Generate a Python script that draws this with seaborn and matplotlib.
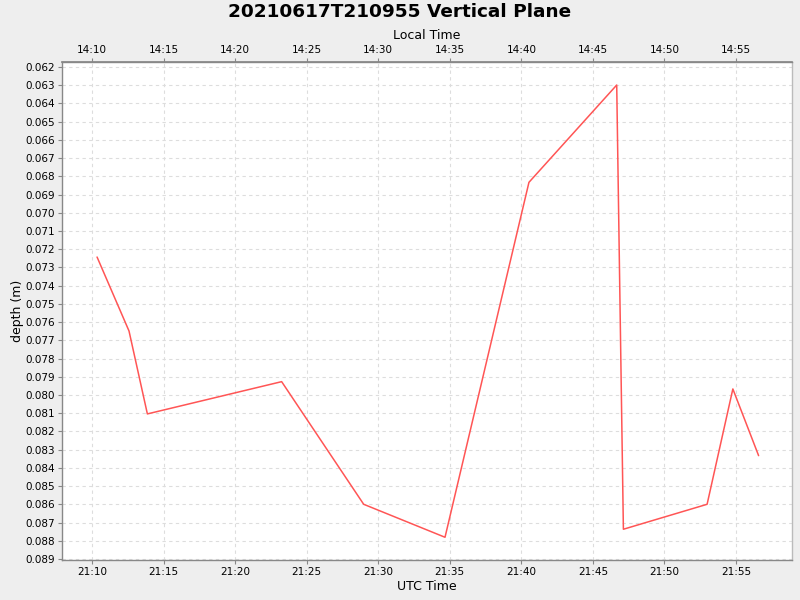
import matplotlib
matplotlib.use("Agg")
import matplotlib.pyplot as plt
import matplotlib.dates as mdates
import matplotlib.ticker as mticker
import seaborn as sns
import pandas as pd
import numpy as np

# Data (UTC time, depth in m)
utc_times = ["21:10:21", "21:12:35", "21:13:52", "21:23:15", "21:28:59", "21:34:40",
             "21:40:32", "21:46:40", "21:47:08", "21:52:59", "21:54:47", "21:56:35"]
depths = [0.07243, 0.07649, 0.08104, 0.07927, 0.08600, 0.08781,
          0.06833, 0.06299, 0.08737, 0.08600, 0.07967, 0.08333]

title = "20210617T210955 Vertical Plane"
date = "2021-06-17"

df = pd.DataFrame({
    "time": pd.to_datetime([f"{date} {t}" for t in utc_times]),
    "depth": depths,
})

sns.set_theme(style="white")
plt.rcParams['font.family'] = ['DejaVu Sans']
plt.rcParams['text.color'] = 'black'
plt.rcParams['axes.labelcolor'] = 'black'
plt.rcParams['xtick.labelcolor'] = 'black'
plt.rcParams['ytick.labelcolor'] = 'black'

fig = plt.figure(figsize=(8, 6), dpi=100, facecolor="#EEEEEE")
ax = fig.add_axes([62/800, 1-560/600, (792-62)/800, (560-62)/600])
ax.set_facecolor("white")

sns.lineplot(data=df, x="time", y="depth", ax=ax, color="#FF5555", linewidth=1.1,
             estimator=None, sort=False)

ax.set_xlim(pd.Timestamp(f"{date} 21:07:54"), pd.Timestamp(f"{date} 21:58:55"))
ax.set_ylim(0.089058, 0.061726)

ax.yaxis.set_major_locator(mticker.MultipleLocator(0.001))
ax.yaxis.set_major_formatter(mticker.FormatStrFormatter("%.3f"))
ax.xaxis.set_major_locator(mdates.MinuteLocator(byminute=range(0, 60, 5)))
ax.xaxis.set_major_formatter(mdates.DateFormatter("%H:%M"))

ax.grid(True, color="#DDDDDD", linestyle=(0, (3, 3)), linewidth=0.8)
for name, s in ax.spines.items():
    s.set_color("#888888")
    s.set_linewidth(1.0)
ax.spines["right"].set_color("#BBBBBB")

ax.tick_params(axis="both", which="major", labelsize=7.5, length=3, width=0.8,
               color="#888888", direction="out", pad=2, bottom=True, left=True)

ax.set_xlabel("UTC Time", fontsize=9, labelpad=2)
ax.set_ylabel("depth (m)", fontsize=9, labelpad=1)

offset = 7 / 24.0
sec = ax.secondary_xaxis("top", functions=(lambda x: x - offset, lambda x: x + offset))
sec.xaxis.set_major_locator(mdates.MinuteLocator(byminute=range(0, 60, 5)))
sec.xaxis.set_major_formatter(mdates.DateFormatter("%H:%M"))
sec.tick_params(labelsize=7.5, length=3, width=0.8, color="#888888", pad=2)
sec.set_xlabel("Local Time", fontsize=9, labelpad=4)
sec.spines["top"].set_color("#888888")

fig.text(0.5, 1-12/600, title, ha="center", va="center", fontsize=13.3,
         fontweight="bold", color="black")

fig.savefig("out.png", dpi=100, facecolor=fig.get_facecolor())
